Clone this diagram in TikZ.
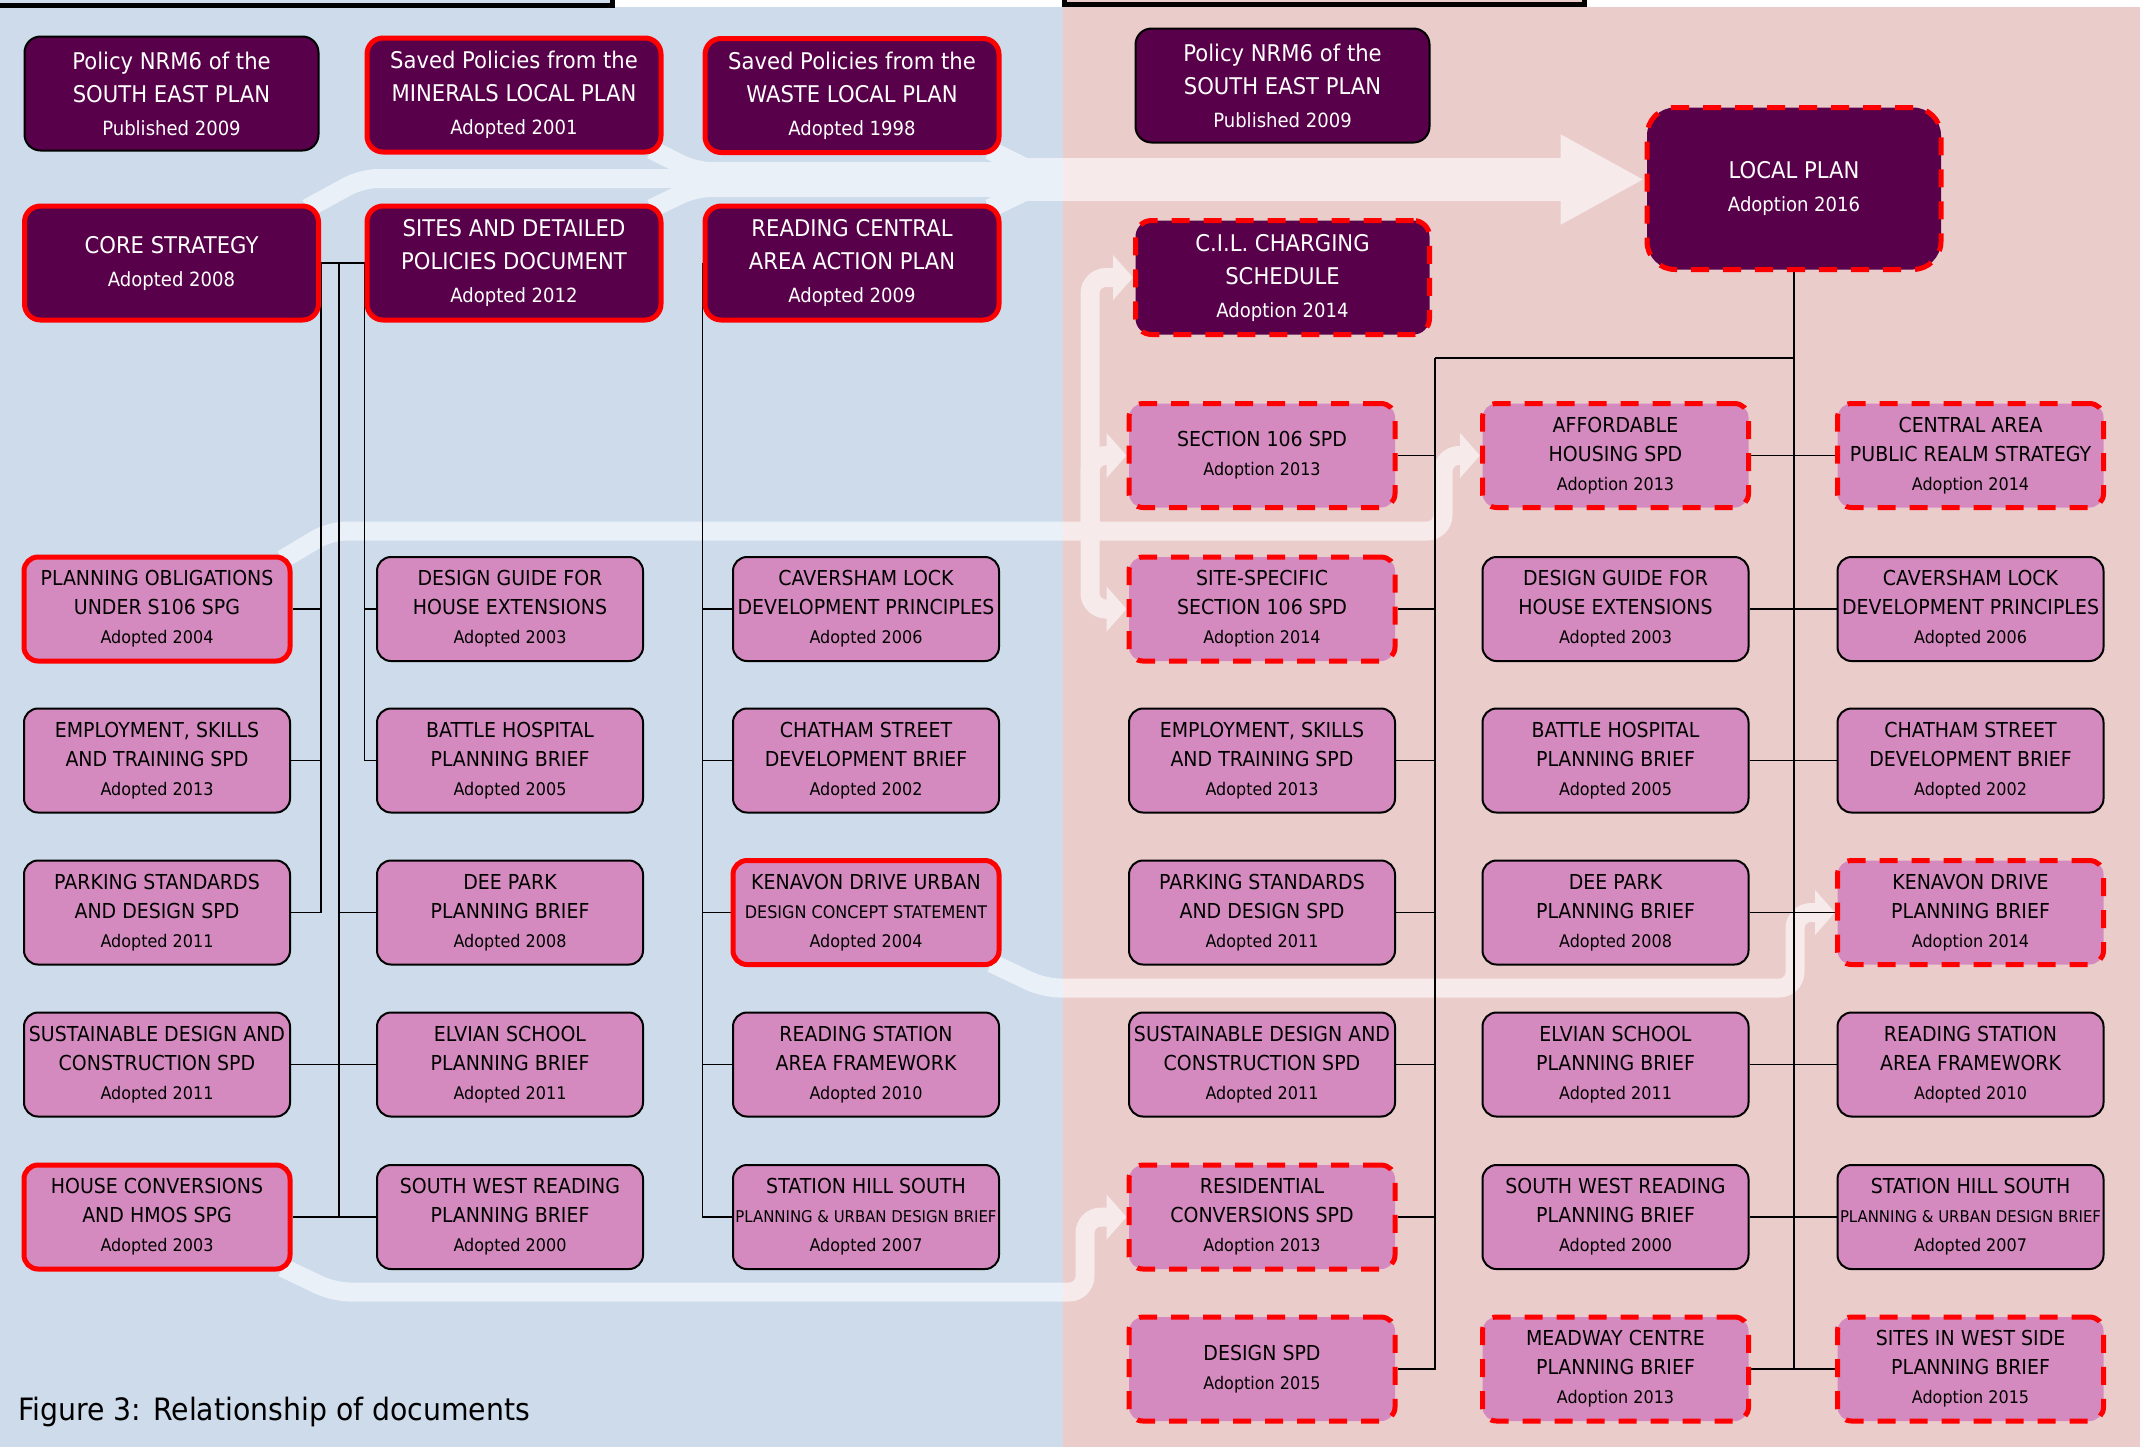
\documentclass[tikz,border=0pt]{standalone}
\usepackage{fontspec}
\setmainfont[FakeStretch=0.92]{DejaVu Sans}
\usetikzlibrary{arrows.meta}

\definecolor{bgblue}{RGB}{205,219,235}
\definecolor{bgpink}{RGB}{234,204,203}
\definecolor{bandblue}{RGB}{234,240,247}
\definecolor{bandpink}{RGB}{246,234,234}
\definecolor{plum}{RGB}{88,0,74}
\definecolor{orchid}{RGB}{213,138,191}
\colorlet{flowcol}{white}

\pgfdeclarelayer{back}
\pgfdeclarelayer{lines}
\pgfsetlayers{back,lines,main}

\newcommand\yrl[1]{{\fontsize{8.7}{12}\selectfont #1}}
\newcommand\yrd[1]{{\fontsize{9.8}{13}\selectfont #1}}

\begin{document}
\begin{tikzpicture}[x=0.5pt, y=-0.5pt,
    box/.style={rectangle, rounded corners=7pt, align=center, inner sep=0pt, line width=1pt, draw=black},
    darkbox/.style={box, fill=plum, text=white, rounded corners=8pt, minimum width=147pt, minimum height=57pt, font=\fontsize{11.5}{16.5}\selectfont},
    lightbox/.style={box, fill=orchid, text=black, minimum width=133pt, minimum height=52pt, font=\fontsize{10.3}{14.5}\selectfont},
    kept/.style={draw=red, line width=2.5pt},
    draft/.style={draw=red, line width=2.5pt, dash pattern=on 9pt off 7pt},
    tree/.style={line width=0.9pt},
    flow/.style={draw=flowcol, line width=9.5pt, rounded corners=8pt},
    into/.style={-{Triangle[length=10pt, width=22pt]}}]

  \useasboundingbox (0,0) rectangle (2140,1447);

  \def\colA{157}
  \def\colB{510}
  \def\colC{866}
  \def\colD{1262}
  \def\colE{1615.5}
  \def\colF{1970.5}
  \def\rowO{455.5}
  \def\rowA{609}
  \def\rowB{760.5}
  \def\rowC{912.5}
  \def\rowD{1064.5}
  \def\rowE{1217}
  \def\rowF{1369}

  % current documents
  \node[darkbox] (nrmL) at (171.5,93.5) {Policy NRM6 of the\\SOUTH EAST PLAN\\\yrd{Published 2009}};
  \node[darkbox, kept] (minerals) at (514,95) {Saved Policies from the\\MINERALS LOCAL PLAN\\\yrd{Adopted 2001}};
  \node[darkbox, kept] (waste) at (852,95.5) {Saved Policies from the\\WASTE LOCAL PLAN\\\yrd{Adopted 1998}};
  \node[darkbox, kept] (core) at (171.5,263) {CORE STRATEGY\\\yrd{Adopted 2008}};
  \node[darkbox, kept] (sites) at (514,263) {SITES AND DETAILED\\POLICIES DOCUMENT\\\yrd{Adopted 2012}};
  \node[darkbox, kept] (rcaap) at (852,263) {READING CENTRAL\\AREA ACTION PLAN\\\yrd{Adopted 2009}};

  \node[lightbox, kept] (oblig) at (\colA,\rowA) {PLANNING OBLIGATIONS\\UNDER S106 SPG\\\yrl{Adopted 2004}};
  \node[lightbox] (guideL) at (\colB,\rowA) {DESIGN GUIDE FOR\\HOUSE EXTENSIONS\\\yrl{Adopted 2003}};
  \node[lightbox] (cavL) at (\colC,\rowA) {CAVERSHAM LOCK\\DEVELOPMENT PRINCIPLES\\\yrl{Adopted 2006}};
  \node[lightbox] (skillsL) at (\colA,\rowB) {EMPLOYMENT, SKILLS\\AND TRAINING SPD\\\yrl{Adopted 2013}};
  \node[lightbox] (battleL) at (\colB,\rowB) {BATTLE HOSPITAL\\PLANNING BRIEF\\\yrl{Adopted 2005}};
  \node[lightbox] (chathamL) at (\colC,\rowB) {CHATHAM STREET\\DEVELOPMENT BRIEF\\\yrl{Adopted 2002}};
  \node[lightbox] (parkingL) at (\colA,\rowC) {PARKING STANDARDS\\AND DESIGN SPD\\\yrl{Adopted 2011}};
  \node[lightbox] (deeL) at (\colB,\rowC) {DEE PARK\\PLANNING BRIEF\\\yrl{Adopted 2008}};
  \node[lightbox, kept] (kenavonL) at (\colC,\rowC) {KENAVON DRIVE URBAN\\\yrl{DESIGN CONCEPT STATEMENT}\\\yrl{Adopted 2004}};
  \node[lightbox] (sustainL) at (\colA,\rowD) {SUSTAINABLE DESIGN AND\\CONSTRUCTION SPD\\\yrl{Adopted 2011}};
  \node[lightbox] (elvianL) at (\colB,\rowD) {ELVIAN SCHOOL\\PLANNING BRIEF\\\yrl{Adopted 2011}};
  \node[lightbox] (stationL) at (\colC,\rowD) {READING STATION\\AREA FRAMEWORK\\\yrl{Adopted 2010}};
  \node[lightbox, kept] (hmoL) at (\colA,\rowE) {HOUSE CONVERSIONS\\AND HMOS SPG\\\yrl{Adopted 2003}};
  \node[lightbox] (swrL) at (\colB,\rowE) {SOUTH WEST READING\\PLANNING BRIEF\\\yrl{Adopted 2000}};
  \node[lightbox] (hillL) at (\colC,\rowE) {STATION HILL SOUTH\\{\fontsize{8.1}{11}\selectfont PLANNING \& URBAN DESIGN BRIEF}\\\yrl{Adopted 2007}};

  % local plan documents
  \node[darkbox] (nrmR) at (1282.5,85.5) {Policy NRM6 of the\\SOUTH EAST PLAN\\\yrd{Published 2009}};
  \node[darkbox, draft] (cil) at (1282.5,277.5) {C.I.L. CHARGING\\SCHEDULE\\\yrd{Adoption 2014}};
  \node[darkbox, draft, minimum height=81pt, rounded corners=14pt] (local) at (1794,188.5) {LOCAL PLAN\\\yrd{Adoption 2016}};

  \node[lightbox, draft] (s106) at (\colD,\rowO) {SECTION 106 SPD\\\yrl{Adoption 2013}};
  \node[lightbox, draft] (afford) at (\colE,\rowO) {AFFORDABLE\\HOUSING SPD\\\yrl{Adoption 2013}};
  \node[lightbox, draft] (central) at (\colF,\rowO) {CENTRAL AREA\\PUBLIC REALM STRATEGY\\\yrl{Adoption 2014}};
  \node[lightbox, draft] (sites106) at (\colD,\rowA) {SITE-SPECIFIC\\SECTION 106 SPD\\\yrl{Adoption 2014}};
  \node[lightbox] (guideR) at (\colE,\rowA) {DESIGN GUIDE FOR\\HOUSE EXTENSIONS\\\yrl{Adopted 2003}};
  \node[lightbox] (cavR) at (\colF,\rowA) {CAVERSHAM LOCK\\DEVELOPMENT PRINCIPLES\\\yrl{Adopted 2006}};
  \node[lightbox] (skillsR) at (\colD,\rowB) {EMPLOYMENT, SKILLS\\AND TRAINING SPD\\\yrl{Adopted 2013}};
  \node[lightbox] (battleR) at (\colE,\rowB) {BATTLE HOSPITAL\\PLANNING BRIEF\\\yrl{Adopted 2005}};
  \node[lightbox] (chathamR) at (\colF,\rowB) {CHATHAM STREET\\DEVELOPMENT BRIEF\\\yrl{Adopted 2002}};
  \node[lightbox] (parkingR) at (\colD,\rowC) {PARKING STANDARDS\\AND DESIGN SPD\\\yrl{Adopted 2011}};
  \node[lightbox] (deeR) at (\colE,\rowC) {DEE PARK\\PLANNING BRIEF\\\yrl{Adopted 2008}};
  \node[lightbox, draft] (kenavonR) at (\colF,\rowC) {KENAVON DRIVE\\PLANNING BRIEF\\\yrl{Adoption 2014}};
  \node[lightbox] (sustainR) at (\colD,\rowD) {SUSTAINABLE DESIGN AND\\CONSTRUCTION SPD\\\yrl{Adopted 2011}};
  \node[lightbox] (elvianR) at (\colE,\rowD) {ELVIAN SCHOOL\\PLANNING BRIEF\\\yrl{Adopted 2011}};
  \node[lightbox] (stationR) at (\colF,\rowD) {READING STATION\\AREA FRAMEWORK\\\yrl{Adopted 2010}};
  \node[lightbox, draft] (resid) at (\colD,\rowE) {RESIDENTIAL\\CONVERSIONS SPD\\\yrl{Adoption 2013}};
  \node[lightbox] (swrR) at (\colE,\rowE) {SOUTH WEST READING\\PLANNING BRIEF\\\yrl{Adopted 2000}};
  \node[lightbox] (hillR) at (\colF,\rowE) {STATION HILL SOUTH\\{\fontsize{8.1}{11}\selectfont PLANNING \& URBAN DESIGN BRIEF}\\\yrl{Adopted 2007}};
  \node[lightbox, draft] (dspd) at (\colD,\rowF) {DESIGN SPD\\\yrl{Adoption 2015}};
  \node[lightbox, draft] (meadway) at (\colE,\rowF) {MEADWAY CENTRE\\PLANNING BRIEF\\\yrl{Adoption 2013}};
  \node[lightbox, draft] (westside) at (\colF,\rowF) {SITES IN WEST SIDE\\PLANNING BRIEF\\\yrl{Adoption 2015}};

  \node[anchor=base west, font=\fontsize{15.4}{18}\selectfont] (caption) at (11,1420) {Figure 3: Relationship of documents};

  \coordinate (mouth) at (1020,179.5);
  \coordinate (fork) at (1090,531);
  \coordinate (trunkA) at (339,263);
  \coordinate (trunkD) at (1435,358);

  \def\flows{
    \path[flow] ([shift={(-14,5)}]core.north east) -- (362,178.5) -- (700,178.5);
    \path[flow] ([shift={(-12,-5)}]minerals.south east) -- (695,171.5) -- (1030,171.5);
    \path[flow] ([shift={(-12,5)}]sites.north east) -- (695,187.5) -- (1030,187.5);
    \path[flow] ([shift={(-12,-5)}]waste.south east) -- (1032,171);
    \path[flow] ([shift={(-12,5)}]rcaap.north east) -- (1032,188);
    \path[flow, line width=21.5pt, -{Triangle[length=42pt, width=42pt]}] (mouth) -- (mouth -| local.west);
    \path[flow] ([shift={(-10,5)}]oblig.north east) -- (330,531) -- (fork);
    \path[flow, into] (fork) |- (cil.west);
    \path[flow, into] (fork) |- (s106.west);
    \path[flow, into] (fork) |- (sites106.west);
    \path[flow, into] (fork) -- (1443,531) |- (afford.west);
    \path[flow, into] ([shift={(-10,-4)}]kenavonL.south east) -- (1044,988) -- (1795,988) |- (kenavonR.west);
    \path[flow, into] ([shift={(-10,-4)}]hmoL.south east) -- (334,1292) -- (1085,1292) |- (resid.west);
  }

  \begin{pgfonlayer}{back}
    \fill[white] (0,0) rectangle (2140,1447);
    \fill[bgblue] (0,7) rectangle (1063,1447);
    \fill[bgpink] (1063,7) rectangle (2140,1447);
    \draw[line width=2.5pt, fill=bgblue] (-10,-40) rectangle (612,5);
    \draw[line width=2.5pt, fill=bgpink] (1064,-40) rectangle (1584,4);
    \begin{scope}
      \clip (0,0) rectangle (1063,1447);
      \colorlet{flowcol}{bandblue}
      \flows
    \end{scope}
    \begin{scope}
      \clip (1063,0) rectangle (2140,1447);
      \colorlet{flowcol}{bandpink}
      \flows
    \end{scope}
  \end{pgfonlayer}

  \begin{pgfonlayer}{lines}
    \draw[tree] (core.east) -- (sites.west);
    \draw[tree] (core.east) |- (parkingL.east);
    \foreach \n in {oblig,skillsL}
      \draw[tree] (\n.east) -- (\n.east -| core.east);
    \draw[tree] (trunkA) -- (trunkA |- hmoL.east);
    \draw[tree] (deeL.west) -- (deeL.west -| trunkA);
    \draw[tree] (sustainL.east) -- (elvianL.west);
    \draw[tree] (hmoL.east) -- (swrL.west);
    \draw[tree] (sites.west) |- (battleL.west);
    \draw[tree] (guideL.west) -- (guideL.west -| sites.west);
    \draw[tree] (rcaap.west) |- (hillL.west);
    \foreach \n in {cavL,chathamL,kenavonL,stationL}
      \draw[tree] (\n.west) -- (\n.west -| rcaap.west);

    \draw[tree] (local.south) -- (local.south |- meadway.east);
    \draw[tree] (trunkD) -- (trunkD -| local.south);
    \draw[tree] (trunkD) |- (dspd.east);
    \foreach \n in {s106,sites106,skillsR,parkingR,sustainR,resid}
      \draw[tree] (\n.east) -- (\n.east -| trunkD);
    \foreach \a/\b in {afford/central,guideR/cavR,battleR/chathamR,deeR/kenavonR,elvianR/stationR,swrR/hillR,meadway/westside}
      \draw[tree] (\a.east) -- (\b.west);
  \end{pgfonlayer}
\end{tikzpicture}
\end{document}
